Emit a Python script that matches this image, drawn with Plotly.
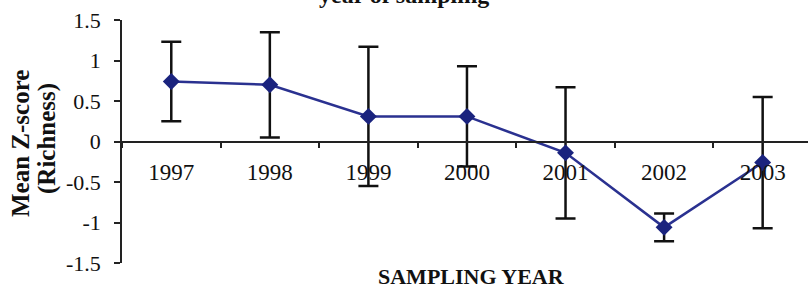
import plotly.graph_objects as go

years = ["1997", "1998", "1999", "2000", "2001", "2002", "2003"]
mean_z = [0.74, 0.70, 0.31, 0.31, -0.14, -1.06, -0.26]
err = [0.49, 0.65, 0.86, 0.62, 0.81, 0.17, 0.81]
y_ticks = [1.5, 1, 0.5, 0, -0.5, -1, -1.5]
y_tick_text = ["1.5", "1", "0.5", "0", "-0.5", "-1", "-1.5"]

serif = "Liberation Serif, Times New Roman, serif"

fig = go.Figure()
fig.add_trace(go.Scatter(
    x=years, y=mean_z, mode="lines+markers",
    line=dict(color="#2a3190", width=2.5),
    marker=dict(symbol="diamond", size=13, color="#1a237e"),
    error_y=dict(type="data", array=err, visible=True, color="#111111",
                 thickness=2.5, width=10),
    showlegend=False, cliponaxis=False,
))

fig.update_layout(
    width=808, height=288,
    margin=dict(l=122, r=0, t=20, b=25, autoexpand=False),
    paper_bgcolor="white", plot_bgcolor="white",
    font=dict(family=serif, color="#111111", size=22),
    xaxis=dict(
        type="category", categoryorder="array", categoryarray=years,
        range=[-0.5, 6.46], tickson="boundaries", ticks="outside", ticklen=6,
        tickwidth=1.5, tickcolor="#222222",
        showline=True, linecolor="#222222", linewidth=1.5,
        showgrid=False, anchor="free", position=0.5,
        tickfont=dict(family=serif, size=23, color="#111111"),
        ticklabelstandoff=10, automargin=False,
    ),
    yaxis=dict(
        range=[-1.5, 1.5], tickvals=y_ticks, ticktext=y_tick_text,
        ticks="outside", ticklen=6, tickwidth=1.5, tickcolor="#222222",
        showline=True, linecolor="#222222", linewidth=1.5,
        showgrid=False, zeroline=False,
        tickfont=dict(family=serif, size=22, color="#111111"),
        ticklabelstandoff=9, automargin=False,
    ),
)

fig.add_annotation(text="<b>year of sampling</b>", xref="paper", yref="paper",
                   x=(404 - 122) / 686, y=(263 + 5) / 243, xanchor="center",
                   yanchor="middle", showarrow=False,
                   font=dict(family=serif, size=24, color="#111111"))
fig.add_annotation(text="<b>SAMPLING YEAR</b>", xref="paper", yref="paper",
                   x=(471 - 122) / 686, y=(263 - 276) / 243, xanchor="center",
                   yanchor="middle", showarrow=False,
                   font=dict(family=serif, size=22, color="#111111"))
fig.add_annotation(text="<b>Mean Z-score</b>", xref="paper", yref="paper",
                   x=(20 - 122) / 686, y=(263 - 144) / 243, xanchor="center",
                   yanchor="middle", showarrow=False, textangle=-90,
                   font=dict(family=serif, size=25, color="#111111"))
fig.add_annotation(text="<b>(Richness)</b>", xref="paper", yref="paper",
                   x=(47 - 122) / 686, y=(263 - 139) / 243, xanchor="center",
                   yanchor="middle", showarrow=False, textangle=-90,
                   font=dict(family=serif, size=25, color="#111111"))

fig.write_html("out.html",
               config={"displayModeBar": False},
               post_script="document.body.style.margin='0';"
                           "document.body.style.overflow='hidden';")
